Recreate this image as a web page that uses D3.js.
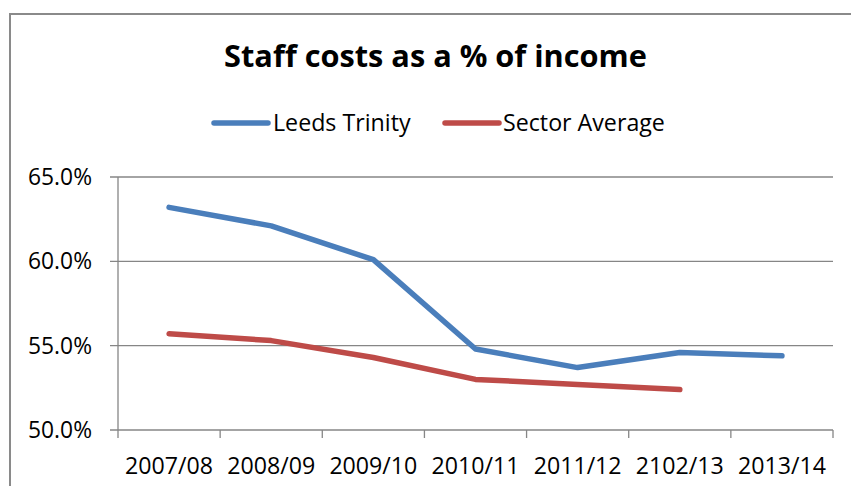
<!DOCTYPE html>
<html><head><meta charset="utf-8">
<script src="https://cdn.jsdelivr.net/npm/d3@7"></script>
<style>
html,body{margin:0;padding:0;background:#fff;}
svg{display:block;}
text{font-family:"Open Sans", Lato, sans-serif;fill:#000;}
</style></head>
<body>
<svg id="chart" width="851" height="486"></svg>
<script>
const categories = ["2007/08","2008/09","2009/10","2010/11","2011/12","2102/13","2013/14"];
const leedsTrinity = [63.2, 62.1, 60.1, 54.8, 53.7, 54.6, 54.4];
const sectorAverage = [55.7, 55.3, 54.3, 53.0, 52.7, 52.4, null];
const yTicks = [50, 55, 60, 65];
const seriesNames = ["Leeds Trinity", "Sector Average"];
const seriesColors = ["#4A7EBB", "#BE4B48"];
const titleText = "Staff costs as a % of income";

const svg = d3.select("#chart");
const plot = {left:118, right:833, top:177, bottom:430};
const grid = "#868686";

// font size fitting helper: size such that text spans target width
function fitSize(str, weight, target){
  const t = svg.append("text").style("font-size","100px").style("font-weight",weight).text(str);
  const w = t.node().getComputedTextLength();
  t.remove();
  return 100*target/w;
}
const titleSize = fitSize(titleText, "bold", 423);
const tickSize = fitSize("2007/08", "normal", 88);
const ySize = fitSize("65.0%", "normal", 64);
const legSize = fitSize("Sector Average", "normal", 162);

// outer border
svg.append("rect").attr("x",10).attr("y",14).attr("width",880).attr("height",520)
  .attr("fill","none").attr("stroke","#8a8a8a").attr("stroke-width",2);

const x = d3.scaleBand().domain(categories).range([plot.left, plot.right]).padding(0);
const y = d3.scaleLinear().domain([50,65]).range([plot.bottom, plot.top]);

// gridlines
svg.append("g").selectAll("line").data(yTicks).join("line")
  .attr("x1", plot.left-8).attr("x2", plot.right)
  .attr("y1", d=>y(d)).attr("y2", d=>y(d))
  .attr("stroke", grid).attr("stroke-width",1.3);

// left axis line
svg.append("line").attr("x1",plot.left).attr("x2",plot.left)
  .attr("y1",plot.top).attr("y2",plot.bottom).attr("stroke",grid).attr("stroke-width",1.3);

// y labels
svg.append("g").selectAll("text").data(yTicks).join("text")
  .attr("x", 92).attr("y", d=>y(d)+8)
  .attr("text-anchor","end").style("font-size",ySize+"px")
  .text(d=>d3.format(".1f")(d)+"%");

// x ticks at band boundaries
const bounds = categories.map(c=>x(c)).concat([x(categories[categories.length-1])+x.bandwidth()]);
svg.append("g").selectAll("line").data(bounds).join("line")
  .attr("x1",d=>d).attr("x2",d=>d).attr("y1",plot.bottom).attr("y2",plot.bottom+8)
  .attr("stroke",grid).attr("stroke-width",1.3);

// x labels
svg.append("g").selectAll("text").data(categories).join("text")
  .attr("x", d=>x(d)+x.bandwidth()/2).attr("y", 474)
  .attr("text-anchor","middle").style("font-size",tickSize+"px")
  .text(d=>d);

// lines
const line = d3.line()
  .defined(d=>d.v!=null)
  .x(d=>x(d.c)+x.bandwidth()/2).y(d=>y(d.v));
[leedsTrinity, sectorAverage].forEach((vals,i)=>{
  svg.append("path")
    .datum(categories.map((c,j)=>({c, v:vals[j]})))
    .attr("d", line).attr("fill","none")
    .attr("stroke", seriesColors[i]).attr("stroke-width",5.5)
    .attr("stroke-linecap","round").attr("stroke-linejoin","round");
});

// title
svg.append("text").attr("x",435.5).attr("y",67).attr("text-anchor","middle")
  .style("font-size",titleSize+"px").style("font-weight","bold")
  .text(titleText);

// legend
const legend = [{x1:214,x2:268,tx:273},{x1:445,x2:499,tx:503}];
legend.forEach((l,i)=>{
  svg.append("line").attr("x1",l.x1).attr("x2",l.x2).attr("y1",123).attr("y2",123)
    .attr("stroke",seriesColors[i]).attr("stroke-width",5.5).attr("stroke-linecap","round");
  svg.append("text").attr("x",l.tx).attr("y",131).style("font-size",legSize+"px").text(seriesNames[i]);
});
</script>
</body></html>
